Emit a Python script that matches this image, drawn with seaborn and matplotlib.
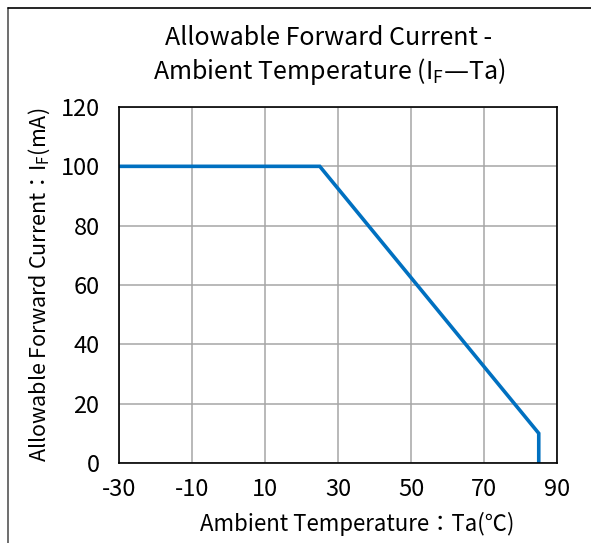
import matplotlib
matplotlib.use("Agg")
import matplotlib.pyplot as plt
from matplotlib.lines import Line2D
import pandas as pd
import seaborn as sns

# derating curve: allowable forward current vs ambient temperature
temp_c = [-30, 25, 85, 85]
current_ma = [100, 100, 10, 0]

x_ticks = [-30, -10, 10, 30, 50, 70, 90]
y_ticks = [0, 20, 40, 60, 80, 100, 120]

TITLE = "Allowable Forward Current -\nAmbient Temperature ($\\mathregular{I_F}$—Ta)"
XLABEL = "Ambient Temperature：Ta(℃)"
YLABEL = "Allowable Forward Current：$\\mathregular{I_F}$(mA)"

LINE_COLOR = "#0070C0"
GRID_COLOR = "#A6A6A6"

sns.set_theme(style="white")
plt.rcParams["font.family"] = ["Noto Sans CJK JP", "DejaVu Sans"]
plt.rcParams["mathtext.default"] = "regular"
plt.rcParams["axes.unicode_minus"] = False

df = pd.DataFrame({"temp": temp_c, "current": current_ma})

fig = plt.figure(figsize=(5.91, 5.43), dpi=100)
ax = fig.add_axes([119 / 591, 1 - 463 / 543, (557 - 119) / 591, (463 - 107) / 543])

sns.lineplot(data=df, x="temp", y="current", ax=ax, sort=False, estimator=None,
             color=LINE_COLOR, linewidth=2.6, solid_joinstyle="miter")

ax.set_xlim(-30, 90)
ax.set_ylim(0, 120)
ax.set_xticks(x_ticks)
ax.set_yticks(y_ticks)
ax.grid(True, color=GRID_COLOR, linewidth=1.1)
ax.set_axisbelow(True)
for s in ax.spines.values():
    s.set_color("black")
    s.set_linewidth(1.2)
ax.tick_params(axis="both", direction="in", length=4, width=1.0, color="#444444",
               labelsize=17, labelcolor="black")
ax.tick_params(axis="x", pad=11)
ax.tick_params(axis="y", pad=14)

ax.set_xlabel(XLABEL, fontsize=16, color="black")
ax.set_ylabel(YLABEL, fontsize=15.5, labelpad=6, color="black")
ax.xaxis.set_label_coords((357 - 119) / 438, -(512 - 463) / 356)

fig.text(329 / 591, 1 - 56 / 543, TITLE, ha="center", va="center", fontsize=18,
         linespacing=1.25, color="black")

# outer frame from the source page
fig.add_artist(Line2D([8 / 591, 8 / 591], [0, 1 - 8 / 543], transform=fig.transFigure,
                      color="#555555", linewidth=1.2))
fig.add_artist(Line2D([8 / 591, 1], [1 - 8 / 543, 1 - 8 / 543], transform=fig.transFigure,
                      color="black", linewidth=1.2))

fig.savefig("out.png", dpi=100)
